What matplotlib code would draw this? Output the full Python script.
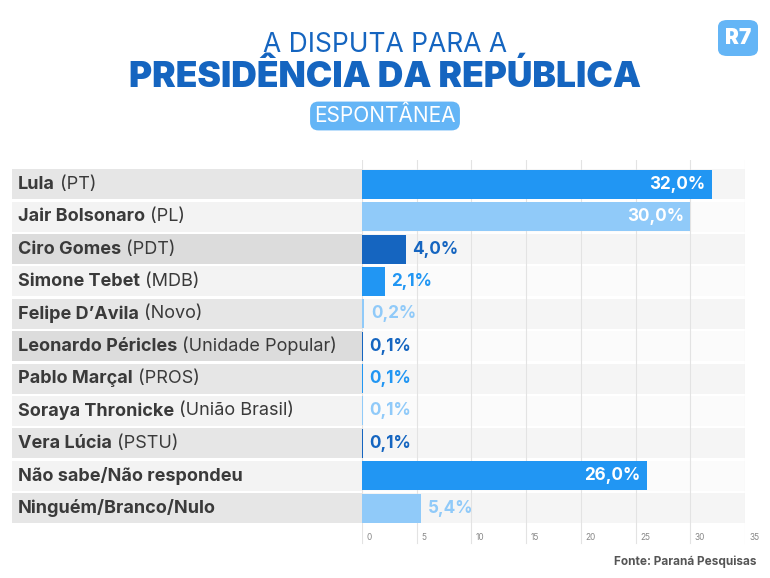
import matplotlib
matplotlib.use("Agg")
import matplotlib.pyplot as plt
from matplotlib.patches import Rectangle, FancyBboxPatch

names = ["Lula", "Jair Bolsonaro", "Ciro Gomes", "Simone Tebet", "Felipe D\u2019Avila",
         "Leonardo Péricles", "Pablo Marçal", "Soraya Thronicke", "Vera Lúcia",
         "Não sabe/Não respondeu", "Ninguém/Branco/Nulo"]
parties = ["(PT)", "(PL)", "(PDT)", "(MDB)", "(Novo)", "(Unidade Popular)", "(PROS)",
           "(União Brasil)", "(PSTU)", "", ""]
values = [32.0, 30.0, 4.0, 2.1, 0.2, 0.1, 0.1, 0.1, 0.1, 26.0, 5.4]
ticks = [0, 5, 10, 15, 20, 25, 30, 35]

MID, LIGHT, DARK = "#2196F3", "#90CAF9", "#1565C0"
colors = [MID, LIGHT, DARK] * 4
FONT = "Inter"

W, H = 770, 578
fig = plt.figure(figsize=(W / 100, H / 100), dpi=100)
fig.patch.set_facecolor("white")

x0, x1 = 362, 745
y0, y1 = 160, 545
ax = fig.add_axes([x0 / W, 1 - y1 / H, (x1 - x0) / W, (y1 - y0) / H])
ax.set_xlim(0, 35)
ax.set_ylim(y1, y0)
ax.axis("off")
scale = (x1 - x0) / 35.0

for t in ticks:
    ax.plot([t, t], [y0, y1 - 2], color="#e3e3e3", lw=0.8, zorder=1)
    ax.text(t + 0.4, 537, str(t), fontsize=6, color="#888888", va="center",
            ha="left", family=FONT)

pitch = 32.4
top = 168
for i, (n, p, v) in enumerate(zip(names, parties, values)):
    yc = top + pitch * i + pitch / 2
    lab_bg = "#e6e6e6" if i % 2 == 0 else "#f3f3f3"
    if i in (2, 5):
        lab_bg = "#dcdcdc"
    area_bg = "#f5f5f5" if i % 2 == 0 else "#fbfbfb"
    ax.add_patch(Rectangle((-(x0 - 12) / scale, yc - 15), (x0 - 12) / scale, 30,
                           color=lab_bg, clip_on=False, zorder=0, lw=0))
    ax.add_patch(Rectangle((0, yc - 15), 35, 30, color=area_bg, zorder=0, lw=0))
    ax.barh(yc, v, height=29, color=colors[i], zorder=2)
    lx = -(x0 - 18) / scale
    t1 = ax.text(lx, yc, n, fontsize=13, weight="bold", color="#3a3a3a",
                 va="center", ha="left", family=FONT)
    if p:
        ax.annotate(" " + p, xycoords=t1, xy=(1, 0.5), va="center", ha="left",
                    fontsize=13, color="#3a3a3a", family=FONT)
    s = f"{v:.1f}%".replace(".", ",")
    if v > 20:
        ax.text(v - 0.6, yc, s, fontsize=12.3, weight="bold", color="white",
                va="center", ha="right", family=FONT, zorder=3)
    else:
        ax.text(v + 0.6, yc, s, fontsize=12.3, weight="bold", color=colors[i],
                va="center", ha="left", family=FONT, zorder=3)

fig.text(385 / W, 1 - 45 / H, "A DISPUTA PARA A", fontsize=19, color="#1565C0",
         ha="center", va="center", family=FONT)
fig.text(385 / W, 1 - 77 / H, "PRESIDÊNCIA DA REPÚBLICA", fontsize=25.5, color="#1565C0",
         weight="black", ha="center", va="center", family=FONT)
fig.text(385 / W, 1 - 116 / H, "ESPONTÂNEA", fontsize=15, color="white",
         ha="center", va="center", family=FONT,
         bbox=dict(boxstyle="round,pad=0.2,rounding_size=0.4", fc="#64B5F6", ec="none"))

# R7 logo
fig.patches.append(FancyBboxPatch((718 / W, 1 - 56 / H), 40 / W, 36 / H,
                                  boxstyle="round,pad=0,rounding_size=0.012",
                                  transform=fig.transFigure, fc="#64B5F6", ec="none"))
fig.text(738 / W, 1 - 38 / H, "R7", fontsize=15, weight="black", color="white",
         ha="center", va="center", family=FONT)

fig.text(757 / W, 1 - 562 / H, "Fonte: Paraná Pesquisas", fontsize=8.5, weight="bold",
         color="#555555", ha="right", va="center", family=FONT)

fig.savefig("out.png", dpi=100)
